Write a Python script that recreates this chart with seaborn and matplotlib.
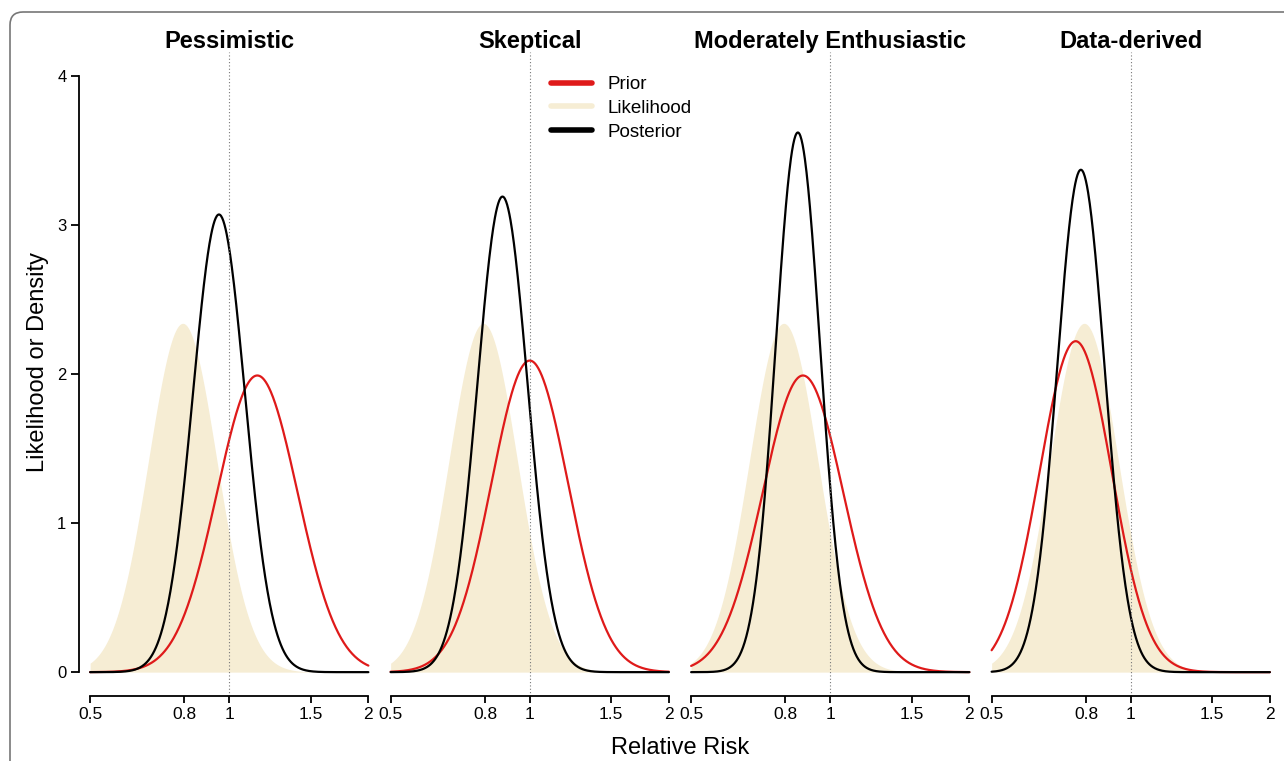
import numpy as np
import pandas as pd
import seaborn as sns
import matplotlib
matplotlib.use('Agg')
import matplotlib.pyplot as plt
from matplotlib.lines import Line2D
from matplotlib.patches import FancyBboxPatch

# values (peak position on RR scale, peak height)
panels = ['Pessimistic', 'Skeptical', 'Moderately Enthusiastic', 'Data-derived']
prior_center = [1.15, 1.00, 0.873, 0.76]
prior_peak = [1.99, 2.09, 1.99, 2.22]
lik_center = [0.793, 0.793, 0.793, 0.793]
lik_peak = [2.34, 2.34, 2.34, 2.34]
post_center = [0.95, 0.873, 0.851, 0.78]
post_peak = [3.07, 3.19, 3.62, 3.37]
x_ticks = [0.5, 0.8, 1, 1.5, 2]
x_tick_labels = ['0.5', '0.8', '1', '1.5', '2']
y_ticks = [0, 1, 2, 3, 4]

red = '#DF1A1A'
beige = '#F6EDD4'

sns.set_style('white')
plt.rcParams['font.family'] = ['Liberation Sans', 'DejaVu Sans']
plt.rcParams['text.color'] = 'black'
plt.rcParams['axes.labelcolor'] = 'black'


def density(rr, center, peak):
    # normal density on log(RR), peak height fixes the spread
    sd = 1 / (peak * np.sqrt(2 * np.pi))
    return peak * np.exp(-0.5 * ((np.log(rr) - np.log(center)) / sd) ** 2)


rr = np.geomspace(0.5, 2, 500)

fig, axes = plt.subplots(1, 4, figsize=(12.84, 7.61), dpi=100, sharey=True)
fig.subplots_adjust(left=79/1284, right=1281/1284, bottom=65/761, top=709/761, wspace=0)

for i, ax in enumerate(axes):
    ax.patch.set_alpha(0)
    ax.fill_between(rr, density(rr, lik_center[i], lik_peak[i]), color=beige, lw=0)
    sns.lineplot(x=rr, y=density(rr, prior_center[i], prior_peak[i]), ax=ax, color=red, lw=1.6)
    sns.lineplot(x=rr, y=density(rr, post_center[i], post_peak[i]), ax=ax, color='black', lw=1.6)
    ax.axvline(1, color='#777777', lw=0.8, ls=(0, (1, 2)))

    ax.set_xscale('log')
    pad = 4 ** 0.04
    ax.set_xlim(0.5 / pad, 2 * pad)
    ax.set_ylim(-0.16, 4.16)
    ax.minorticks_off()
    ax.set_xticks(x_ticks)
    ax.set_xticklabels(x_tick_labels)
    ax.set_xlabel('')
    ax.set_ylabel('')
    ax.set_title(panels[i], fontsize=17, fontweight='bold', pad=3, color='black')

    for s in ['top', 'right']:
        ax.spines[s].set_visible(False)
    ax.spines['bottom'].set_bounds(0.5, 2)
    ax.spines['bottom'].set_linewidth(1.3)
    ax.spines['bottom'].set_color('black')
    ax.tick_params(axis='x', bottom=True, direction='out', length=5, width=1.3,
                   labelsize=12.5, pad=3, colors='black')
    if i == 0:
        ax.spines['left'].set_bounds(0, 4)
        ax.spines['left'].set_linewidth(1.3)
        ax.spines['left'].set_color('black')
        ax.set_yticks(y_ticks)
        ax.tick_params(axis='y', left=True, direction='out', length=6, width=1.3,
                       labelsize=12, pad=3, colors='black')
    else:
        ax.spines['left'].set_visible(False)
        ax.tick_params(axis='y', left=False)

handles = [Line2D([], [], color=red, lw=4, solid_capstyle='round'),
           Line2D([], [], color=beige, lw=4, solid_capstyle='round'),
           Line2D([], [], color='black', lw=4, solid_capstyle='round')]
fig.legend(handles, ['Prior', 'Likelihood', 'Posterior'], loc='upper left',
           bbox_to_anchor=(551/1284, 1 - 76/761), bbox_transform=fig.transFigure,
           frameon=False, fontsize=13.5, handlelength=2.2, handletextpad=0.8,
           labelspacing=0.36, borderpad=0, borderaxespad=0)

fig.text(38/1284, 1 - 362/761, 'Likelihood or Density', rotation=90,
         ha='center', va='center', fontsize=17)
fig.text(680/1284, 1 - 748/761, 'Relative Risk', ha='center', va='center', fontsize=17)

frame = FancyBboxPatch((0.10, -0.5), 13.5, 7.61 - 0.12 + 0.5,
                       boxstyle='round,pad=0,rounding_size=0.13',
                       transform=fig.dpi_scale_trans, fill=False,
                       ec='#777777', lw=1.2)
fig.patches.append(frame)

fig.savefig('out.png', dpi=100)
